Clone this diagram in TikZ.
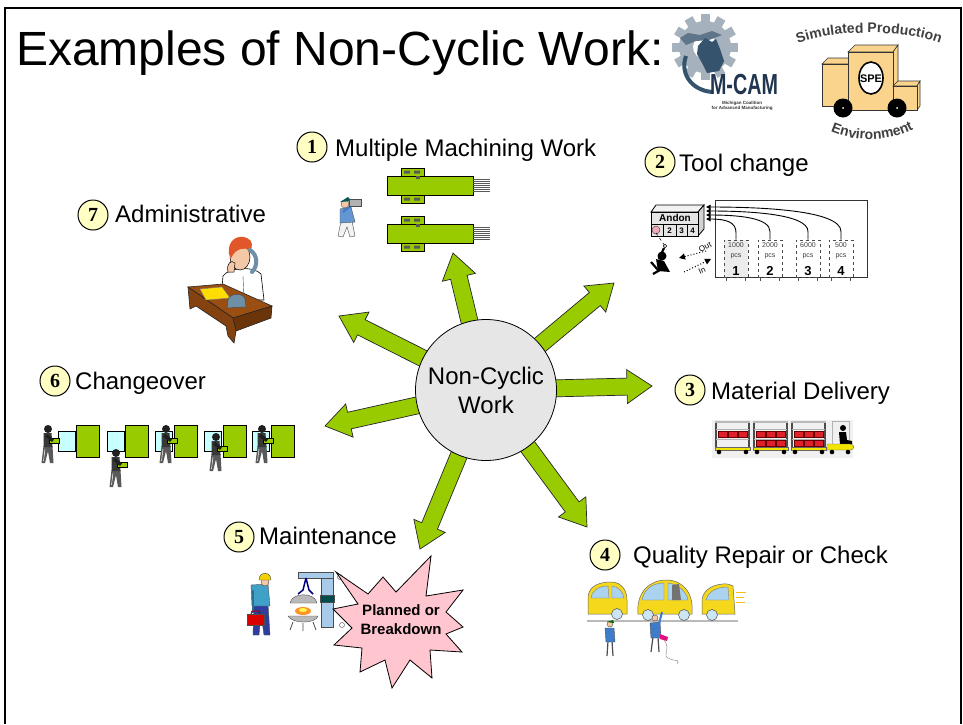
\documentclass[tikz,border=0pt]{standalone}
\usepackage{fontspec}
\setmainfont{Liberation Sans}
\newfontfamily\numfont{Liberation Serif}
\usetikzlibrary{calc,decorations.text,arrows.meta}
\pgfdeclarelayer{back}
\pgfsetlayers{back,main}

\definecolor{spokegreen}{HTML}{99CC00}
\definecolor{hubfill}{HTML}{E6E6E6}
\definecolor{badgefill}{HTML}{FFFFC4}
\definecolor{burstfill}{HTML}{FFC6D0}
\definecolor{palecyan}{HTML}{C8FFFF}
\definecolor{boxred}{HTML}{E0202A}
\definecolor{cartyellow}{HTML}{F2E600}
\definecolor{carbody}{HTML}{F5D81C}
\definecolor{glass}{HTML}{A9D3EE}
\definecolor{deskbrown}{HTML}{9A4E12}
\definecolor{deskdark}{HTML}{6B3409}
\definecolor{skin}{HTML}{F4C7A6}
\definecolor{hair}{HTML}{E2572A}
\definecolor{phoneblue}{HTML}{6E8FA6}
\definecolor{shirtblue}{HTML}{3E7CC9}
\definecolor{framesky}{HTML}{A9CBEA}
\definecolor{gearlight}{HTML}{A5B1BC}
\definecolor{michblue}{HTML}{36536D}
\definecolor{navy}{HTML}{1F3550}
\definecolor{truckfill}{HTML}{FAD48C}
\definecolor{andonpink}{HTML}{F2A7B8}
\definecolor{hatyellow}{HTML}{F2D200}
\definecolor{overall}{HTML}{2F3E9E}
\definecolor{tealshirt}{HTML}{3FA0C8}

\tikzset{
  label text/.style={font=\fontsize{24}{28}\selectfont, inner sep=0pt, anchor=base west},
  badge/.style={circle, draw=black, line width=1pt, fill=badgefill, minimum size=30pt,
    inner sep=0pt, font=\numfont\bfseries\fontsize{20}{20}\selectfont},
  hubnode/.style={circle, draw=black, line width=0.8pt, fill=hubfill, minimum size=141pt,
    inner sep=0pt, align=center, font=\fontsize{24}{29}\selectfont},
  spoke/.style={fill=spokegreen, draw=black!85, line width=0.7pt, line join=miter},
  mill/.style={fill=spokegreen, draw=black, line width=0.7pt},
  thinline/.style={draw=black!70, line width=0.4pt},
  binbox/.style={draw=black!70, dashed, line width=0.9pt, minimum width=24pt,
    minimum height=37pt, inner sep=0pt},
  tiny/.style={font=\fontsize{7}{7}\selectfont, text=black!75, inner sep=0pt},
  pics/millunit/.style={code={
    \draw[mill] (14,-8) rectangle (37,0);
    \draw[mill] (14,19) rectangle (37,27);
    \draw[mill] (0,0) rectangle (86,19);
    \fill[black!65] (17,-5.5) rectangle (23,-2.5) (27,-5.5) rectangle (33,-2.5);
    \fill[black!65] (17,21.5) rectangle (23,24.5) (27,21.5) rectangle (33,24.5);
    \fill[black!65] (29,0) rectangle (33,3);
    \foreach \yy in {3,5,7,9,11,13,15}
      \draw[gray!70!black, line width=0.8pt] (86,\yy) -- (103,\yy);
  }},
  pics/carrier/.style={code={
    \fill[black!65] (-4.5,21) -- (-6.5,38) -- (-3,38) -- (0,26) -- (2,38) -- (5.5,38) -- (4.5,21) -- cycle;
    \draw[white, line width=0.5pt] (-3,24) -- (-4.5,36);
    \fill[black!78] (-4.5,8) -- (3.5,8) -- (4.5,22) -- (-4.5,22) -- cycle;
    \fill[black!88] (0,4) circle (4);
    \filldraw[fill=spokegreen, draw=black, line width=0.4pt] (1,13) rectangle (11,18);
    \fill[black!88] (-1,9) -- (6,14.5) -- (4,17) -- (-3,11.5) -- cycle;
  }},
  pics/cart/.style={code={
    \draw[gray!60!black, line width=1.2pt] (1,2) -- (1,28) (34,2) -- (34,28);
    \draw[gray!55, line width=1.6pt] (0,2) -- (35,2);
    \draw[gray!60, line width=0.8pt] (1,19) -- (34,19) (1,9) -- (34,9);
    \foreach \bx in {3,13,23}
      \filldraw[fill=boxred, draw=red!40!black, line width=0.3pt] (\bx,11) rectangle ++(9,6);
    \filldraw[fill=cartyellow, draw=black!60, line width=0.3pt] (0,27.5) rectangle (35,30);
    \fill[black] (4,32) circle (2.3) (31,32) circle (2.3);
  }},
}

\newcommand\spokearrow[2]{%
  \path ($(#1.center)!60pt!(#2)$) coordinate (sb) ($(#2)!25pt!(#1.center)$) coordinate (sn);
  \draw[spoke] ($(sb)!8.5pt!90:(sn)$) -- ($(sn)!8.5pt!-90:(sb)$) -- ($(sn)!17pt!-90:(sb)$) -- (#2)
    -- ($(sn)!17pt!90:(sb)$) -- ($(sn)!8.5pt!90:(sb)$) -- ($(sb)!8.5pt!-90:(sn)$) -- cycle;}

\begin{document}
\begin{tikzpicture}[x=1pt,y=-1pt]
\useasboundingbox (0,0) rectangle (963,724);
\begin{pgfonlayer}{back}
  \fill[white] (0,0) rectangle (963,724);
\end{pgfonlayer}
\draw[line width=2.5pt] (5,724) -- (5,8) -- (961,8) -- (961,724);

% heading
\node[anchor=base west, inner sep=0pt, font=\fontsize{48}{52}\selectfont] (heading) at (16,65)
  {Examples of Non-Cyclic Work:};

% ---------- M-CAM logo ----------
\fill[gearlight] (705,47) circle (26);
\foreach \a in {0,30,...,330}
  \fill[gearlight, shift={(705,47)}, rotate=\a] (-4.5,-33) rectangle (4.5,-22);
\fill[white] (705,47) circle (12);
\fill[michblue!80] (680,38) -- (688,33) -- (700,35) -- (712,31) -- (722,35) -- (709,40) -- (696,41) -- (686,45) -- cycle;
\fill[michblue] (698,46) -- (705,38) -- (712,42) -- (716,39) -- (720,49) -- (724,61) -- (719,71) -- (707,73) -- (702,63) -- (697,54) -- cycle;
\draw[michblue, line width=4pt] (686,56) .. controls (680,72) and (690,90) .. (712,92);
\node[font=\bfseries\fontsize{29}{29}\selectfont, text=navy, xscale=0.68, inner sep=0pt, anchor=base] (mcam) at (744,94) {M-CAM};
\node[font=\bfseries\fontsize{4.5}{5}\selectfont, text=black!80, inner sep=0pt, align=center] (mcamsub) at (742,106)
  {Michigan Coalition\\for Advanced Manufacturing};

% ---------- SPE logo ----------
\path[decorate, decoration={text along path, text align=center,
  text={|\bfseries\fontsize{14}{14}\selectfont\color{black!75}|Simulated Production}}]
  (790,47) .. controls (825,28) and (910,28) .. (948,47);
\begin{scope}[fill=truckfill, draw=black!80, line width=0.6pt]
  \filldraw (822,64) -- (828,58) -- (856,58) -- (852,64) -- cycle;
  \filldraw (822,64) rectangle (852,106);
  \filldraw (848,52) -- (855,45) -- (898,45) -- (893,52) -- cycle;
  \filldraw (893,52) -- (898,45) -- (898,82) -- (893,86) -- cycle;
  \filldraw (848,52) rectangle (893,110);
  \filldraw (893,86) -- (898,81) -- (920,81) -- (917,86) -- cycle;
  \filldraw (917,86) -- (920,81) -- (920,106) -- (917,110) -- cycle;
  \filldraw (893,86) rectangle (917,110);
\end{scope}
\filldraw[fill=white, draw=black, line width=1.6pt] (871,78) ellipse (12 and 16);
\node[font=\bfseries\fontsize{11}{11}\selectfont, inner sep=0pt] (spe) at (871,79) {SPE};
\fill[black] (843,108) circle (9.5) (897,108) circle (9.5);
\fill[white] (843,108) circle (1) (897,108) circle (1);
\path[decorate, decoration={text along path, text align=center,
  text={|\bfseries\fontsize{14}{14}\selectfont\color{black!75}|Environment}}]
  (822,127) .. controls (850,144) and (895,144) .. (922,124);

% ---------- hub and spokes ----------
\node[hubnode] (hub) at (486,390) {Non-Cyclic\\Work};
\coordinate (tip1) at (453,253);
\coordinate (tip2) at (614,283);
\coordinate (tip3) at (652,386);
\coordinate (tip4) at (587,527);
\coordinate (tip5) at (420,549);
\coordinate (tip6) at (325,426);
\coordinate (tip7) at (339,316);
\begin{pgfonlayer}{back}
  \spokearrow{hub}{tip1}
  \spokearrow{hub}{tip2}
  \spokearrow{hub}{tip3}
  \spokearrow{hub}{tip4}
  \spokearrow{hub}{tip5}
  \spokearrow{hub}{tip6}
  \spokearrow{hub}{tip7}
\end{pgfonlayer}

% ---------- numbered headings ----------
\node[badge] (b1) at (312,147) {1};
\node[label text] (l1) at (335,156) {Multiple Machining Work};
\node[badge] (b2) at (660,162) {2};
\node[label text] (l2) at (679,171) {Tool change};
\node[badge] (b3) at (690,390) {3};
\node[label text] (l3) at (711,399) {Material Delivery};
\node[badge] (b4) at (605,555) {4};
\node[label text] (l4) at (633,563) {Quality Repair or Check};
\node[badge] (b5) at (239,537) {5};
\node[label text] (l5) at (259,544) {Maintenance};
\node[badge] (b6) at (55,381) {6};
\node[label text] (l6) at (75,389) {Changeover};
\node[badge] (b7) at (93,215) {7};
\node[label text] (l7) at (115,222) {Administrative};

% ---------- 1: two machines and an operator ----------
\pic at (387,176) {millunit};
\pic at (387,224) {millunit};
\filldraw[fill=gray!10, thinline] (341,221) -- (338,236) -- (343,237) -- (347,227) -- (350,237) -- (355,236) -- (352,221) -- cycle;
\filldraw[fill=shirtblue!80, thinline] (340,209) -- (351,207) -- (355,222) -- (340,223) -- cycle;
\filldraw[fill=skin, thinline] (345,204) circle (4);
\fill[teal!70!black] (340,202) -- (348,197) -- (352,201) -- cycle;
\draw[shirtblue, line width=2pt] (343,212) -- (352,205);
\filldraw[fill=gray!60, draw=black!70, line width=0.4pt] (349,199) rectangle (361,206);

% ---------- 2: andon board and kanban bins ----------
\draw[black!80, line width=0.8pt] (715,200) rectangle (867,277);
\filldraw[fill=gray!10, draw=black, line width=0.8pt] (651,212) -- (656,205) -- (704,205) -- (698,212) -- cycle;
\filldraw[fill=gray!35, draw=black, line width=0.8pt] (698,212) -- (704,205) -- (704,229) -- (698,236) -- cycle;
\filldraw[fill=gray!20, draw=black, line width=0.8pt] (651,212) rectangle (698,236);
\draw[black, line width=0.6pt] (651,224) -- (698,224) (663,224) -- (663,236) (676,224) -- (676,236) (687,224) -- (687,236);
\node[font=\bfseries\fontsize{10}{10}\selectfont, inner sep=0pt] (andonword) at (675,218) {Andon};
\node[font=\bfseries\fontsize{8}{8}\selectfont, inner sep=0pt] (cell2) at (669.5,230.5) {2};
\node[font=\bfseries\fontsize{8}{8}\selectfont, inner sep=0pt] (cell3) at (681.5,230.5) {3};
\node[font=\bfseries\fontsize{8}{8}\selectfont, inner sep=0pt] (cell4) at (692.5,230.5) {4};
\filldraw[fill=andonpink, draw=black!70, line width=0.5pt] (656,230) circle (4);
\coordinate (andon1) at (706,219);
\coordinate (andon2) at (706,215);
\coordinate (andon3) at (706,211);
\coordinate (andon4) at (706,207);
\node[binbox, fill=gray!15] (bin1) at (736,258.5) {};
\node[binbox] (bin2) at (770,258.5) {};
\node[binbox] (bin3) at (808,258.5) {};
\node[binbox] (bin4) at (841,258.5) {};
\foreach \b/\q/\n in {bin1/1000/1, bin2/2000/2, bin3/6000/3, bin4/500/4} {
  \node[tiny] (\b q) at ([yshift=-6pt]\b.north) {\q};
  \node[tiny] (\b p) at ([yshift=-17pt]\b.north) {pcs};
  \node[font=\bfseries\fontsize{13}{13}\selectfont, inner sep=0pt] (\b n) at ([yshift=6pt]\b.south) {\n};
  \draw[black!70, line width=0.6pt] ([xshift=3pt]\b.south west) -- ++(0,4) ([xshift=-3pt]\b.south east) -- ++(0,4);
}
\begin{scope}[line width=0.9pt, -{Triangle[length=4.5pt,width=4.5pt]}]
  \draw (bin1.north) -- ++(0,-7) .. controls (736,222) and (726,219) .. (andon1);
  \draw (bin2.north) -- ++(0,-8) .. controls (770,218) and (740,215) .. (andon2);
  \draw (bin3.north) -- ++(0,-8) .. controls (808,214) and (750,211) .. (andon3);
  \draw (bin4.north) -- ++(0,-8) .. controls (841,210) and (760,207) .. (andon4);
\end{scope}
% operator pulling the cord
\coordinate (cordhand) at (665,246);
\draw[black, dashed, line width=0.5pt] (656,233) -- (cordhand);
\draw[black, line width=0.6pt, fill=white] (cordhand) circle (1.8);
\fill[black] (662,256) circle (4.5);
\fill[black] (656,259) -- (664,261) -- (670,272) -- (658,271) -- cycle;
\draw[black, line width=2.2pt] (659,259) -- (664,248);
\draw[black, line width=2.2pt] (658,270) -- (651,262) (660,270) -- (653,274);
\coordinate (outfrom) at (706,251);
\coordinate (outto) at (679,258);
\coordinate (infrom) at (684,272);
\coordinate (into) at (711,259);
\draw[dotted, line width=1pt, -{Triangle[length=6pt,width=6pt]}] (outfrom) -- (outto);
\draw[dotted, line width=1pt, -{Triangle[length=6pt,width=6pt]}] (infrom) -- (into);
\node[font=\fontsize{8}{8}\selectfont, rotate=25, inner sep=0pt] (outword) at (705,247) {Out};
\node[font=\fontsize{8}{8}\selectfont, rotate=25, inner sep=0pt] (inword) at (702,271) {In};

% ---------- 3: tugger train ----------
\fill[gray!12] (712,420) rectangle (853,458);
\pic at (715,420) {cart};
\pic at (753,420) {cart};
\pic at (791,420) {cart};
\foreach \cx in {753,791}
  \foreach \bx in {3,13,23}
    \filldraw[fill=boxred, draw=red!40!black, line width=0.3pt] (\cx+\bx,440) rectangle ++(9,6);
\draw[gray!60, line width=0.8pt] (832,421) rectangle (849,445);
\fill[black] (843,428) circle (3);
\fill[black] (839,432) -- (846,432) -- (847,440) -- (852,441) -- (852,444) -- (840,444) -- cycle;
\filldraw[fill=cartyellow, draw=black!60, line width=0.4pt] (827,444) -- (850,444) .. controls (855,444) and (855,450) .. (850,450) -- (827,450) -- cycle;
\fill[black] (832,452) circle (2.3) (848,452) circle (2.3);

% ---------- 4: cars under repair ----------
\draw[gray!55, line width=1.5pt] (587,621) -- (738,621);
\filldraw[fill=carbody, draw=black!60, line width=0.5pt] (588,614) -- (588,597) .. controls (589,586) and (599,582) .. (611,582) .. controls (622,582) and (627,591) .. (627,600) -- (627,614) -- cycle;
\filldraw[fill=glass, draw=black!50, line width=0.4pt] (591,598) .. controls (592,590) and (599,586) .. (608,586) -- (609,598) -- cycle;
\filldraw[fill=glass, draw=black!50, line width=0.4pt] (612,586) .. controls (619,587) and (623,592) .. (624,598) -- (612,598) -- cycle;
\filldraw[fill=glass!60, draw=black!70, line width=0.5pt] (617,614) circle (5.5);
\filldraw[fill=carbody, draw=black!60, line width=0.5pt] (638,614) .. controls (636,592) and (650,580) .. (666,580) .. controls (684,580) and (694,594) .. (692,614) -- cycle;
\filldraw[fill=glass, draw=black!50, line width=0.4pt] (642,600) .. controls (644,588) and (654,583) .. (664,583) -- (664,600) -- cycle;
\filldraw[fill=glass, draw=black!50, line width=0.4pt] (668,583) .. controls (678,584) and (686,591) .. (688,600) -- (668,600) -- cycle;
\fill[black!55] (672,585) -- (679,584) -- (681,600) -- (672,600) -- cycle;
\filldraw[fill=glass!60, draw=black!70, line width=0.5pt] (648,615) circle (5.5) (684,615) circle (5.5);
\filldraw[fill=carbody, draw=black!60, line width=0.5pt] (702,614) -- (702,600) .. controls (703,589) and (715,583) .. (728,584) -- (733,586) -- (735,614) -- cycle;
\filldraw[fill=glass, draw=black!50, line width=0.4pt] (706,600) .. controls (708,592) and (716,587) .. (728,587) -- (729,600) -- cycle;
\filldraw[fill=glass!60, draw=black!70, line width=0.5pt] (712,615) circle (5.5);
\draw[carbody!70!orange, line width=0.8pt] (736,592) -- (746,592) (736,597) -- (744,597) (736,602) -- (745,602);
\draw[gray!60!black, line width=1.2pt] (608,641) -- (607,656) (612,641) -- (613,656);
\filldraw[fill=shirtblue, thinline] (605,628) -- (614,628) -- (615,642) -- (606,642) -- cycle;
\filldraw[fill=skin, thinline] (610,624) circle (3);
\fill[green!40!black] (607,622) -- (613,620) -- (614,623) -- cycle;
\draw[gray!60!black, line width=1.2pt] (653,637) -- (651,652) (658,637) -- (659,652);
\filldraw[fill=shirtblue, thinline] (650,623) -- (660,622) -- (661,638) -- (651,638) -- cycle;
\draw[shirtblue, line width=2pt] (659,624) -- (662,612);
\filldraw[fill=skin, thinline] (655,618) circle (3);
\fill[magenta!80!purple] (660,634) -- (668,637) -- (667,641) -- (660,639) -- cycle;
\draw[gray, line width=0.4pt] (664,640) .. controls (672,650) and (660,655) .. (670,659) .. controls (676,662) and (680,658) .. (677,664);

% ---------- 5: maintenance worker, machine and burst ----------
\filldraw[fill=overall, thinline] (254,604) -- (268,604) -- (270,635) -- (264,635) -- (261,613) -- (259,635) -- (253,635) -- cycle;
\filldraw[fill=tealshirt, thinline] (251,585) -- (268,584) -- (270,606) -- (252,606) -- cycle;
\filldraw[fill=skin, thinline] (265,582) circle (4);
\filldraw[fill=hatyellow, thinline] (259,580) .. controls (259,571) and (271,571) .. (271,580) -- cycle;
\draw[tealshirt!70!black, line width=2pt] (253,590) -- (253,613);
\filldraw[fill=red!85!black, draw=black!70, line width=0.5pt] (247,614) rectangle (264,625);
\draw[red!60!black, line width=1pt] (251,614) -- (252,611) -- (259,611) -- (260,614);
\filldraw[fill=framesky, thinline] (321,573) rectangle (333,627);
\filldraw[fill=framesky, thinline] (298,572) rectangle (333,578);
\filldraw[fill=teal!60!black, thinline] (320,595) rectangle (334,602);
\draw[blue!50!black, line width=1.5pt] (306,578) -- (303,590) -- (298,594) (306,578) -- (309,590) -- (313,594);
\filldraw[fill=gray!55, thinline] (290,603) .. controls (292,592) and (315,592) .. (317,603) -- cycle;
\fill[orange!85] (303,611) ellipse (8 and 4);
\fill[yellow!70] (303,610) ellipse (4 and 2);
\filldraw[fill=gray!55, thinline] (288,616) -- (318,616) .. controls (316,624) and (292,624) .. (288,616) -- cycle;
\draw[black!70, line width=0.8pt] (293,622) -- (290,630) (313,622) -- (316,630) (303,623) -- (303,631);
\draw[black!60, line width=0.5pt] (340,577) circle (2.5) (342,625) circle (2.5);
\filldraw[fill=burstfill, draw=black, line width=0.8pt]
  (336,572) -- (368,594) -- (383,577) -- (396,592) -- (431,556) -- (426,596) -- (463,590)
  -- (446,612) -- (463,627) -- (446,634) -- (462,652) -- (430,650) -- (432,678) -- (410,660)
  -- (392,688) -- (385,660) -- (360,672) -- (362,648) -- (334,645) -- (352,628) -- (333,609)
  -- (358,604) -- cycle;
\node[font=\bfseries\fontsize{15}{19}\selectfont, align=center, inner sep=0pt] (burstword) at (401,620) {Planned or\\Breakdown};

% ---------- 6: changeover cells ----------
\foreach \x in {58,107,155,204,252}
  \filldraw[fill=palecyan, draw=black, line width=0.6pt] (\x,431) rectangle ++(17,20);
\foreach \x in {76,125,174,223,271}
  \filldraw[fill=spokegreen, draw=black, line width=0.6pt] (\x,425) rectangle ++(23.5,32);
\pic at (48,425) {carrier};
\pic at (116,449) {carrier};
\pic at (166,425) {carrier};
\pic at (216,433) {carrier};
\pic at (262,425) {carrier};

% ---------- 7: clerk at a desk ----------
\filldraw[fill=white, draw=black, line width=0.6pt] (221,300) -- (223,276) .. controls (229,267) and (254,266) .. (261,274) -- (264,300) -- cycle;
\draw[black!70, line width=0.4pt] (243,276) -- (244,299);
\filldraw[fill=skin, draw=black, line width=0.5pt] (240,257) ellipse (10 and 13);
\fill[hair] (229,254) .. controls (227,240) and (238,234) .. (247,238) .. controls (253,240) and (253,248) .. (250,250) .. controls (244,247) and (236,248) .. (231,258) -- cycle;
\filldraw[fill=skin, draw=black, line width=0.5pt] (228,272) .. controls (226,264) and (231,259) .. (235,263) -- (234,272) -- cycle;
\draw[phoneblue, line width=4pt, line cap=round] (250,250) .. controls (258,255) and (258,266) .. (252,272);
\filldraw[fill=deskbrown, draw=black!85, line width=0.6pt] (188,287) -- (223,284) -- (272,306) -- (233,318) -- cycle;
\filldraw[fill=deskdark, draw=black!85, line width=0.6pt] (233,318) -- (272,306) -- (271,318) -- (236,331) -- cycle;
\filldraw[fill=deskbrown!85!black, draw=black!85, line width=0.6pt] (188,287) -- (233,318) -- (236,331) -- (234,343) -- (228,336) -- (226,326) -- (196,306) -- (190,309) -- cycle;
\filldraw[fill=yellow!80!orange, draw=black!50, line width=0.4pt] (200,289) -- (222,287) -- (230,298) -- (206,300) -- cycle;
\filldraw[fill=phoneblue, draw=black!70, line width=0.5pt] (228,300) .. controls (229,293) and (243,292) .. (245,299) -- (246,307) -- (227,308) -- cycle;
\end{tikzpicture}
\end{document}
